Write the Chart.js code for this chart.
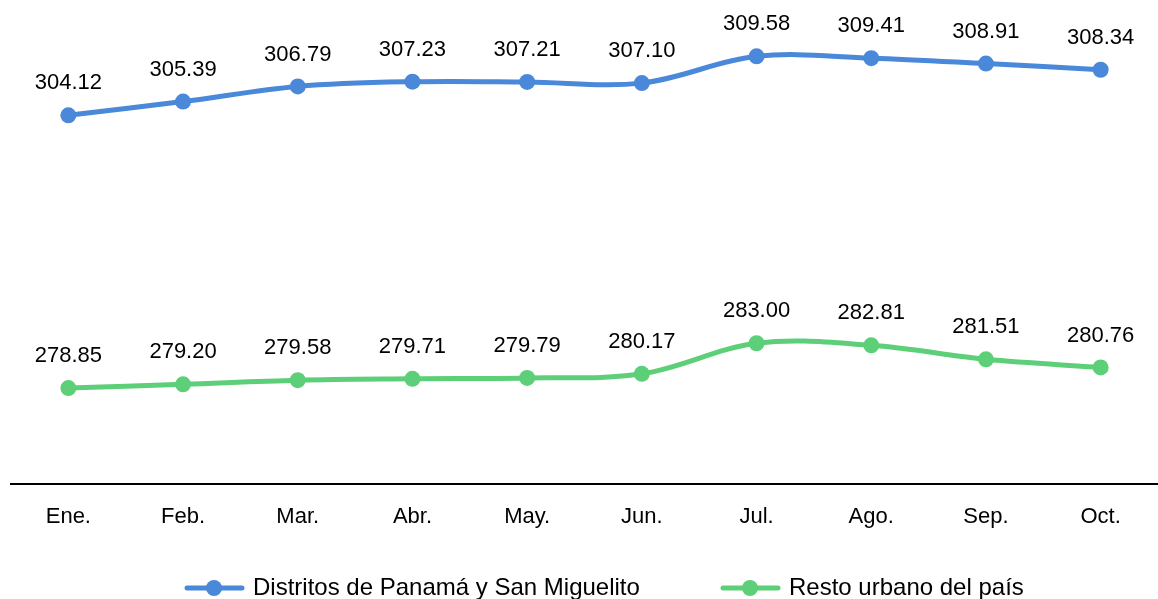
<!DOCTYPE html>
<html>
<head>
<meta charset="utf-8">
<script src="https://cdn.jsdelivr.net/npm/chart.js@4"></script>
<style>
  html, body { margin: 0; padding: 0; background: #fff; overflow: hidden; }
  canvas { display: block; }
</style>
</head>
<body>
<canvas id="chart" width="1158" height="599"></canvas>
<script>
// months on the x axis
const months = ['Ene.', 'Feb.', 'Mar.', 'Abr.', 'May.', 'Jun.', 'Jul.', 'Ago.', 'Sep.', 'Oct.'];

const panamaLabel = 'Distritos de Panamá y San Miguelito';
const panamaValues = [304.12, 305.39, 306.79, 307.23, 307.21, 307.10, 309.58, 309.41, 308.91, 308.34];

const restoLabel = 'Resto urbano del país';
const restoValues = [278.85, 279.20, 279.58, 279.71, 279.79, 280.17, 283.00, 282.81, 281.51, 280.76];

const blue = '#4a88d9';
const green = '#5dcf78';
const fontFamily = '"Liberation Sans", Arial, sans-serif';

// value labels above each point
const pointLabels = {
    id: 'pointLabels',
    afterDatasetsDraw(chart) {
        const ctx = chart.ctx;
        ctx.save();
        ctx.font = '22px ' + fontFamily;
        ctx.fillStyle = '#000';
        ctx.textAlign = 'center';
        ctx.textBaseline = 'middle';
        chart.data.datasets.forEach((ds, i) => {
            chart.getDatasetMeta(i).data.forEach((pt, j) => {
                ctx.fillText(ds.data[j].toFixed(2), pt.x, pt.y - 32);
            });
        });
        ctx.restore();
    }
};

// legend at the bottom: line + dot, then the label
const lineLegend = {
    id: 'lineLegend',
    afterDraw(chart) {
        const ctx = chart.ctx;
        const y = 588;
        const starts = [187, 723];
        ctx.save();
        ctx.font = '24px ' + fontFamily;
        ctx.textBaseline = 'middle';
        chart.data.datasets.forEach((ds, i) => {
            const x = starts[i];
            ctx.strokeStyle = ds.borderColor;
            ctx.lineWidth = 5;
            ctx.lineCap = 'round';
            ctx.beginPath();
            ctx.moveTo(x, y);
            ctx.lineTo(x + 55, y);
            ctx.stroke();
            ctx.fillStyle = ds.borderColor;
            ctx.beginPath();
            ctx.arc(x + 27, y, 8, 0, Math.PI * 2);
            ctx.fill();
            ctx.fillStyle = '#000';
            ctx.fillText(ds.label, x + 66, y);
        });
        ctx.restore();
    }
};

new Chart(document.getElementById('chart'), {
    type: 'line',
    data: {
        labels: months,
        datasets: [
            {
                label: panamaLabel,
                data: panamaValues,
                borderColor: blue,
                backgroundColor: blue,
                borderWidth: 5,
                pointRadius: 8,
                pointHoverRadius: 8,
                pointBackgroundColor: blue,
                pointBorderWidth: 0,
                tension: 0.35
            },
            {
                label: restoLabel,
                data: restoValues,
                borderColor: green,
                backgroundColor: green,
                borderWidth: 5,
                pointRadius: 8,
                pointHoverRadius: 8,
                pointBackgroundColor: green,
                pointBorderWidth: 0,
                tension: 0.35
            }
        ]
    },
    options: {
        responsive: false,
        animation: false,
        layout: { autoPadding: false, padding: { left: 11, right: 0, top: 0, bottom: 57 } },
        scales: {
            y: {
                display: false,
                min: 270,
                max: 314.8
            },
            x: {
                offset: true,
                grid: { display: false },
                border: { display: true, color: '#000', width: 2 },
                ticks: {
                    color: '#000',
                    padding: 12,
                    font: { size: 22, family: fontFamily }
                }
            }
        },
        plugins: {
            legend: { display: false },
            tooltip: { enabled: false }
        }
    },
    plugins: [pointLabels, lineLegend]
});
</script>
</body>
</html>
